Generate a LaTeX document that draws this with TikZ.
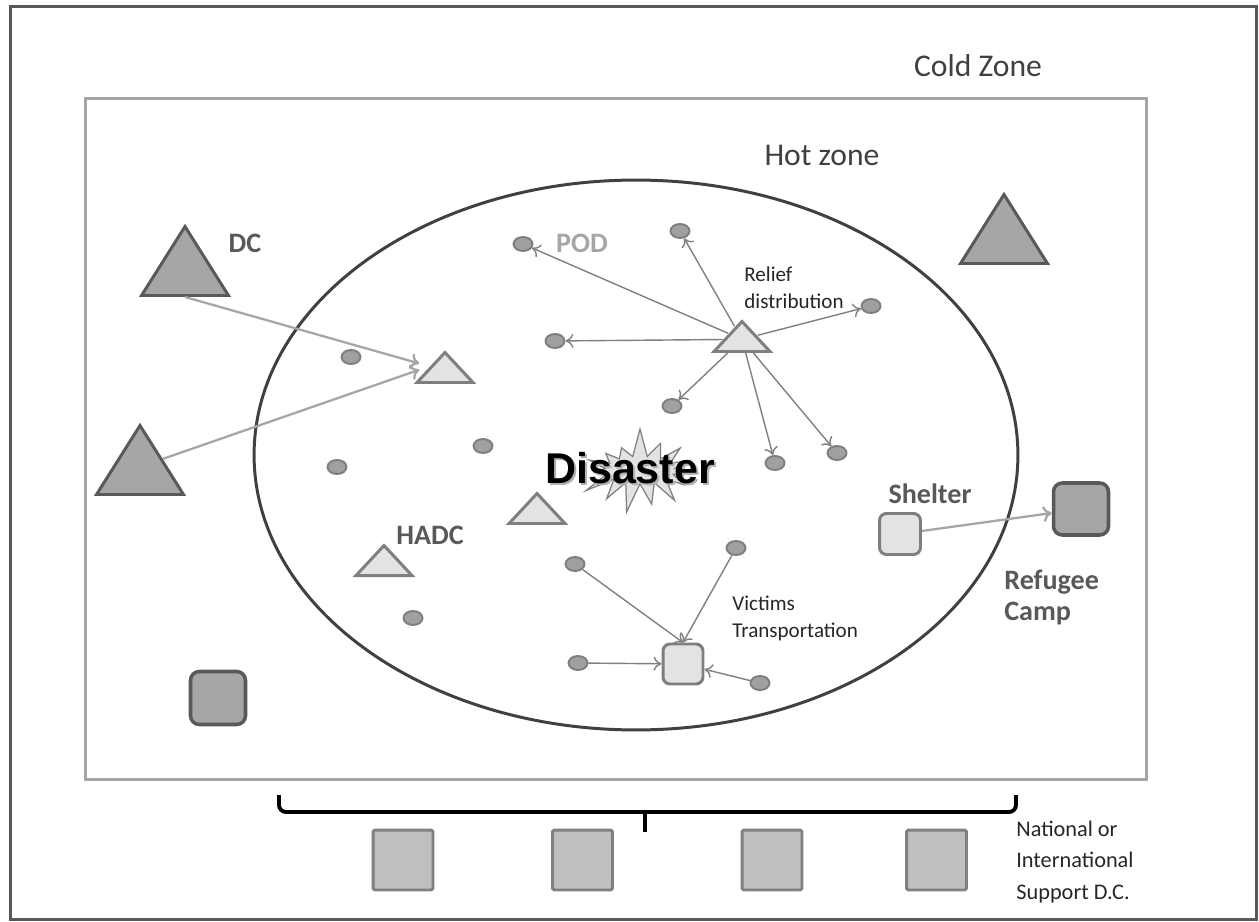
\documentclass[tikz,border=0pt]{standalone}
\usepackage{fontspec}
\setmainfont{Carlito}
\newfontfamily\disasterfont{Liberation Sans}
\usetikzlibrary{shapes.geometric,shapes.symbols,arrows.meta}

\definecolor{framegrey}{HTML}{595959}
\definecolor{zonegrey}{HTML}{A6A6A6}
\definecolor{hotgrey}{HTML}{404040}
\definecolor{hubfill}{HTML}{A6A6A6}
\definecolor{hubline}{HTML}{595959}
\definecolor{lightfill}{HTML}{E3E3E3}
\definecolor{lightline}{HTML}{7F7F7F}
\definecolor{podfill}{HTML}{A0A0A0}
\definecolor{podline}{HTML}{7F7F7F}
\definecolor{supfill}{HTML}{BFBFBF}
\definecolor{supline}{HTML}{808080}
\definecolor{textdark}{HTML}{262626}

\tikzset{
  bigtri/.style={isosceles triangle, isosceles triangle stretches, rotate=90,
    anchor=lower side, inner sep=0pt, fill=hubfill, draw=hubline, line width=1.7pt,
    minimum width=1.74cm, minimum height=1.38cm},
  smalltri/.style={isosceles triangle, isosceles triangle stretches, rotate=90,
    anchor=lower side, inner sep=0pt, fill=lightfill, draw=lightline, line width=1.7pt,
    minimum width=1.12cm, minimum height=0.6cm},
  pod/.style={ellipse, inner sep=0pt, minimum width=0.38cm, minimum height=0.28cm,
    fill=podfill, draw=podline, line width=1.1pt},
  hubbox/.style={rectangle, rounded corners=5pt, inner sep=0pt, fill=hubfill,
    draw=hubline, line width=2pt},
  litebox/.style={rectangle, rounded corners=4pt, inner sep=0pt, fill=lightfill,
    draw=lightline, line width=1.7pt, minimum size=0.82cm},
  supbox/.style={rectangle, rounded corners=1pt, inner sep=0pt, fill=supfill,
    draw=supline, line width=1.7pt, minimum size=1.2cm},
  hubarrow/.style={-{To[length=5pt,width=9pt]}, draw=zonegrey, line width=1.3pt},
  podarrow/.style={-{To[length=4.5pt,width=8pt]}, draw=supline, line width=0.8pt},
  boldlabel/.style={inner sep=0pt, text=framegrey, font=\bfseries\fontsize{16}{17.6}\selectfont},
  smalllabel/.style={inner sep=0pt, text=textdark, align=left, font=\fontsize{12}{15.3}\selectfont},
  zonelabel/.style={inner sep=0pt, text=hotgrey, font=\fontsize{18}{22}\selectfont}
}

\begin{document}
\begin{tikzpicture}[x=0.02cm, y=-0.02cm]
\useasboundingbox (0,0) rectangle (1259,922);

% zones
\node[draw=framegrey, line width=1.7pt, minimum width=24.94cm, minimum height=18.28cm] (frame) at (633.5,463) {};
\node[draw=zonegrey, line width=1.7pt, minimum width=21.24cm, minimum height=13.64cm] (cold) at (616,439) {};
\node[draw=hotgrey, line width=1.7pt, ellipse, minimum width=15.28cm, minimum height=11cm] (hot) at (636,455) {};
\node[zonelabel] (coldlbl) at (978,66) {Cold Zone};
\node[zonelabel] (hotlbl) at (822,155) {Hot zone};

% disaster
\node[starburst, starburst points=15, starburst point height=0.6cm, random starburst=7,
  fill=lightfill, draw=lightline, line width=0.7pt, minimum width=2.6cm, minimum height=1.75cm] (burst) at (640,470) {};
\node[text=black!30, font=\disasterfont\bfseries\fontsize{24.5}{28}\selectfont] (disshadow) at (632,470.5) {Disaster};
\node[text=black, font=\disasterfont\bfseries\fontsize{24.5}{28}\selectfont] (dis) at (630,468) {Disaster};

% distribution centres
\node[bigtri] (dc1) at (185,297) {};
\node[bigtri] (dc2) at (140,496) {};
\node[bigtri] (dc3) at (1004,265) {};
\node[boldlabel] (dclbl) at (245,243) {DC};

\node[smalltri] (hadc1) at (445,384) {};
\node[smalltri] (relief) at (742,353) {};
\node[smalltri] (hadc2) at (537,525) {};
\node[smalltri] (hadc3) at (384,577) {};
\node[boldlabel] (hadclbl) at (430,535) {HADC};

% points of distribution
\node[pod] (pod1) at (523,244) {};
\node[pod] (pod2) at (680,231) {};
\node[pod] (pod3) at (871,306) {};
\node[pod] (pod4) at (555,341) {};
\node[pod] (pod5) at (672,406) {};
\node[pod] (pod6) at (775,463) {};
\node[pod] (pod7) at (837,453) {};
\node[pod] (pod8) at (351,357) {};
\node[pod] (pod9) at (337,467) {};
\node[pod] (pod10) at (483,446) {};
\node[pod] (pod11) at (575,564) {};
\node[pod] (pod12) at (736,548) {};
\node[pod] (pod13) at (413,618) {};
\node[pod] (pod14) at (578,663) {};
\node[pod] (pod15) at (760,683) {};
\node[boldlabel, text=zonegrey] (podlbl) at (582,243) {POD};

\node[smalllabel, anchor=west] (relieflbl) at (744,288) {Relief\\distribution};

% shelters and camps
\node[litebox] (shelter) at (900,534) {};
\node[boldlabel] (shelterlbl) at (930,494) {Shelter};
\node[hubbox, minimum width=1.1cm, minimum height=1.04cm] (camp) at (1081,509) {};
\node[boldlabel, anchor=west, align=left] (camplbl) at (1004,597) {Refugee\\Camp};
\node[hubbox, minimum width=1.1cm, minimum height=1.06cm] (store) at (218,698) {};

\node[litebox, minimum size=0.8cm] (victim) at (683,664) {};
\node[smalllabel, anchor=west] (victimlbl) at (732,618) {Victims\\Transportation};

% flows
\draw[hubarrow, shorten >=6pt] (dc1.lower side) -- (hadc1.left side);
\draw[hubarrow, shorten >=6pt] (dc2.right side) -- (hadc1.left side);
\draw[hubarrow] (shelter) -- (camp);

\draw[podarrow] (relief) -- (pod1);
\draw[podarrow] (relief) -- (pod2);
\draw[podarrow] (relief) -- (pod3);
\draw[podarrow] (relief) -- (pod4);
\draw[podarrow] (relief) -- (pod5);
\draw[podarrow] (relief) -- (pod6);
\draw[podarrow] (relief) -- (pod7);

\draw[podarrow] (pod11) -- (victim.north);
\draw[podarrow] (pod12) -- (victim.north);
\draw[podarrow] (pod14) -- (victim);
\draw[podarrow] (pod15) -- (victim);

% national support
\draw[line width=2.2pt, rounded corners=4pt] (279,795) -- (279,812) -- (1016,812) -- (1016,795);
\draw[line width=2.2pt] (645,812) -- (645,832);
\node[supbox] (sup1) at (403,860) {};
\node[supbox] (sup2) at (582.5,860) {};
\node[supbox] (sup3) at (772,860) {};
\node[supbox] (sup4) at (936.5,860) {};
\node[smalllabel, anchor=west, font=\fontsize{12.7}{18.1}\selectfont] (suplbl) at (1016,862) {National or\\International\\Support D.C.};
\end{tikzpicture}
\end{document}
